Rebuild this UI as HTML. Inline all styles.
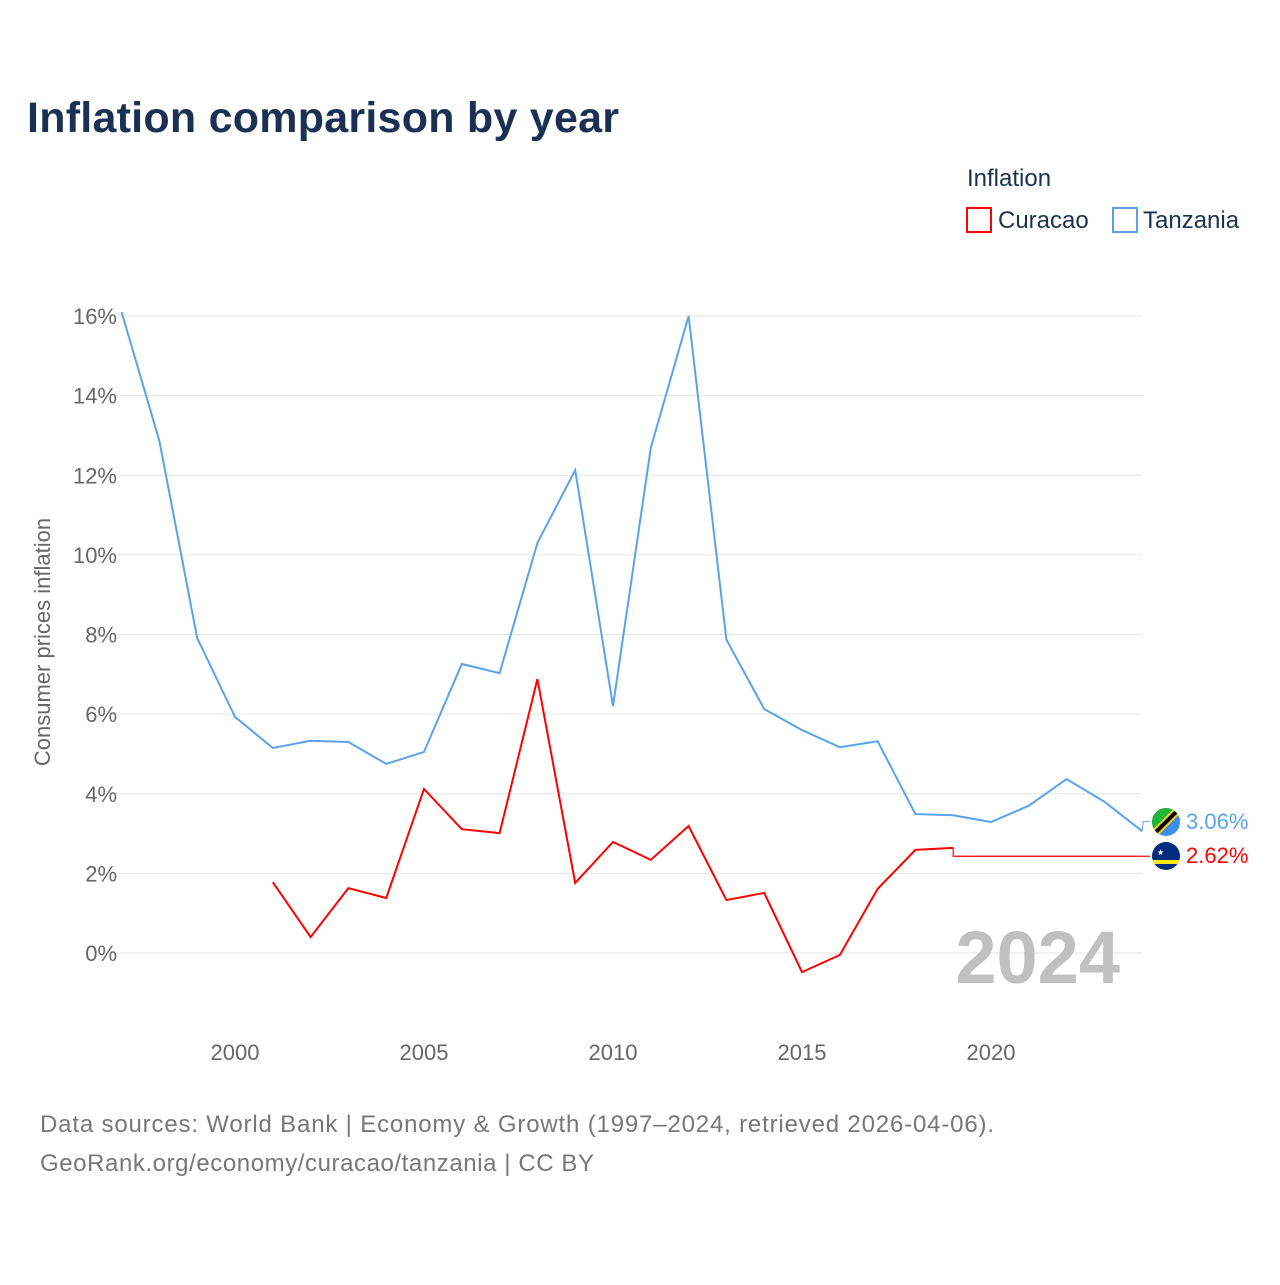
<!DOCTYPE html>
<html><head><meta charset="utf-8"><style>
body{margin:0;background:#fff;font-family:"Liberation Sans",sans-serif}
</style></head><body>
<svg width="1280" height="1280" viewBox="0 0 1280 1280" xmlns="http://www.w3.org/2000/svg">
<defs><clipPath id="tc"><circle cx="1166" cy="822" r="14"/></clipPath><clipPath id="cc"><circle cx="1166" cy="856" r="14"/></clipPath></defs>
<text x="27" y="132" font-size="43" font-weight="bold" fill="#1b3153" textLength="592">Inflation comparison by year</text>
<text x="967" y="186" font-size="24" fill="#1b3153">Inflation</text>
<g><rect x="967" y="208" width="24" height="24" fill="none" stroke="#f00" stroke-width="2"/><text x="998" y="228" font-size="24" fill="#1b3153">Curacao</text></g>
<g><rect x="1113" y="208" width="24" height="24" fill="none" stroke="#5aa3ea" stroke-width="2"/><text x="1143" y="228" font-size="24" fill="#1b3153">Tanzania</text></g>
<g id="grid"></g><g id="yt"></g><g id="xt"></g>
<text x="50" y="642" font-size="22" fill="#666" transform="rotate(-90 50 642)" text-anchor="middle">Consumer prices inflation</text>
<text x="1120" y="983" font-size="74" font-weight="bold" fill="#c0c0c0" text-anchor="end">2024</text>
<g id="lines"></g>
<g clip-path="url(#tc)"><rect x="1150" y="806" width="32" height="32" fill="#3a8ee6"/><path d="M1150 806 L1182 806 L1150 838 Z" fill="#1eb53a"/><line x1="1152" y1="836" x2="1180" y2="808" stroke="#fcd116" stroke-width="8"/><line x1="1152" y1="836" x2="1180" y2="808" stroke="#000" stroke-width="4"/></g>
<g clip-path="url(#cc)"><rect x="1150" y="840" width="32" height="32" fill="#002b7f"/><rect x="1150" y="860" width="32" height="4" fill="#f9e814"/><text x="1157" y="855" font-size="8" fill="#fff">★</text></g>
<text x="1186" y="829" font-size="22" fill="#5aa3ea">3.06%</text>
<text x="1186" y="863" font-size="22" fill="#f00">2.62%</text>
<text x="40" y="1132" font-size="24" fill="#777" textLength="954">Data sources: World Bank | Economy &amp; Growth (1997–2024, retrieved 2026-04-06).</text>
<text x="40" y="1171" font-size="24" fill="#777" textLength="554">GeoRank.org/economy/curacao/tanzania | CC BY</text>
</svg>
<script>
const years=[1997,1998,1999,2000,2001,2002,2003,2004,2005,2006,2007,2008,2009,2010,2011,2012,2013,2014,2015,2016,2017,2018,2019,2020,2021,2022,2023,2024];
const tanzania=[16.1,12.86,7.91,5.93,5.15,5.33,5.30,4.75,5.05,7.26,7.03,10.3,12.13,6.2,12.69,16.0,7.87,6.13,5.6,5.17,5.32,3.49,3.46,3.29,3.7,4.37,3.8,3.06];
const curacaoYears=[2001,2002,2003,2004,2005,2006,2007,2008,2009,2010,2011,2012,2013,2014,2015,2016,2017,2018,2019];
const curacao=[1.78,0.4,1.63,1.38,4.12,3.11,3.01,6.88,1.76,2.79,2.34,3.19,1.33,1.51,-0.48,-0.05,1.61,2.59,2.64];
const curacaoLast=2.43;
const yTicks=[0,2,4,6,8,10,12,14,16];
const xTicks=[2000,2005,2010,2015,2020];
const NS="http://www.w3.org/2000/svg";
const X=v=>121.6+(v-1997)*37.8, Y=v=>953-v*39.81;
function mk(t,a,p){const e=document.createElementNS(NS,t);for(const k in a)e.setAttribute(k,a[k]);document.getElementById(p).appendChild(e);return e;}
yTicks.forEach(t=>{
 const l=mk('line',{x1:110,x2:1142,y1:Y(t),y2:Y(t),stroke:'#e6e6e6','stroke-width':1},'grid');
 
 
 const tx=mk('text',{x:117,y:Y(t)+8,'font-size':22,fill:'#666','text-anchor':'end'},'yt');tx.textContent=t+'%';
 
 
});
xTicks.forEach(t=>{
 const tx=mk('text',{x:X(t),y:1060,'font-size':22,fill:'#666','text-anchor':'middle'},'xt');tx.textContent=t;
 
 
});
const tp=mk('polyline',{points:years.map((y,i)=>X(y)+','+Y(tanzania[i])).join(' '),fill:'none',stroke:'#5aa3ea','stroke-width':2},'lines');


const tc=mk('polyline',{points:X(2024)+','+Y(tanzania[27])+' '+(X(2024)+1)+','+Y(3.3)+' 1150,'+Y(3.3),fill:'none',stroke:'#5aa3ea','stroke-width':1},'lines');


const cp=mk('polyline',{points:curacaoYears.map((y,i)=>X(y)+','+Y(curacao[i])).join(' '),fill:'none',stroke:'#f00','stroke-width':2},'lines');


const cc=mk('polyline',{points:X(2019)+','+Y(curacao[18])+' '+X(2019)+','+Y(curacaoLast)+' 1150,'+Y(curacaoLast),fill:'none',stroke:'#ff0000','stroke-width':1.2},'lines');


</script>
</body></html>
